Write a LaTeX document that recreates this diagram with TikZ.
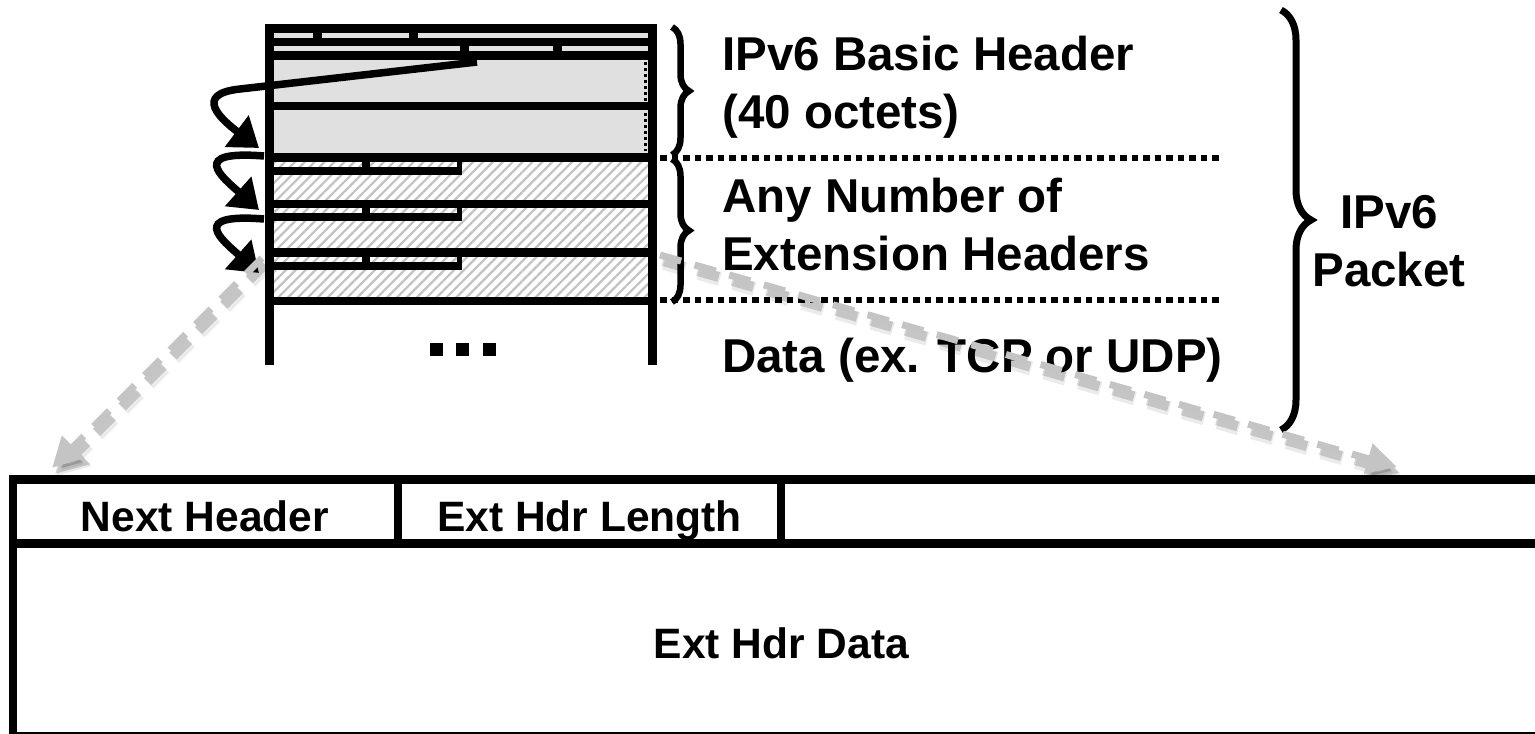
\documentclass[tikz,border=0pt]{standalone}
\usepackage{fontspec}
\setmainfont{Liberation Sans}
\usetikzlibrary{arrows.meta,patterns.meta,decorations.pathreplacing}

\definecolor{hdrgray}{gray}{0.88}
\definecolor{hatchgray}{gray}{0.76}
\definecolor{ptrgray}{gray}{0.77}

\begin{document}
\begin{tikzpicture}[x=1pt,y=-1pt,
  hline/.style={line width=8.5pt,line cap=rect},
  vline/.style={line width=8.5pt,line cap=butt},
  field/.style={line width=8pt,line cap=butt},
  dotline/.style={line width=6pt,dash pattern=on 6.5pt off 5pt},
  curl/.style={line width=7.5pt,-{Triangle[length=28pt,width=38pt]}},
  ptr/.style={ptrgray,line width=7pt,dash pattern=on 22pt off 14pt,
    -{Triangle[length=30pt,width=30pt]}},
  ptrshadow/.style={black,opacity=#1,line width=10pt,dash pattern=on 22pt off 14pt,
    -{Triangle[length=32pt,width=34pt]}},
  bigbrace/.style={decorate,decoration={brace,amplitude=#1},line width=6.5pt},
  label/.style={font=\bfseries\fontsize{47.5}{58}\selectfont,inner sep=0pt},
  flabel/.style={font=\bfseries\fontsize{42.5}{50}\selectfont,inner sep=0pt}
]
\useasboundingbox (0,0) rectangle (1535,734);
\clip (0,0) rectangle (1535,734);

% ---- packet stack: basic header (grey) and extension headers (hatched)
\fill[hdrgray] (269.5,28.5) rectangle (652.5,157.5);
\fill[white] (269.5,157.5) rectangle (652.5,301);
\fill[pattern={Lines[angle=45,distance=7pt,line width=2.2pt]},pattern color=hatchgray]
  (269.5,157.5) rectangle (652.5,301);

% small truncation ticks on the right of the address rows
\draw[line width=3.5pt,dash pattern=on 3pt off 3pt] (645.5,62) -- (645.5,101);
\draw[line width=3.5pt,dash pattern=on 3pt off 3pt] (645.5,113) -- (645.5,151);

% horizontal rules of the stack
\foreach \yy in {28.5,41.75,55.25,106,157.5,204,252.5,301}
  \draw[hline] (269.5,\yy) -- (652.5,\yy);

% field separators in the first two header words
\draw[field,line width=9pt] (317,28.5) -- (317,41.75);
\draw[field,line width=9pt] (413,28.5) -- (413,41.75);
\draw[field,line width=9pt] (464,41.75) -- (464,55.25);
\draw[field,line width=9pt] (557.5,41.75) -- (557.5,55.25);

% Next Header / Hdr Ext Len fields of each extension header
\foreach \yb in {157.5,204,252.5}{
  \draw[field,line width=8pt] (269.5,\yb+13) -- (461.7,\yb+13);
  \draw[field] (365.5,\yb) -- (365.5,\yb+13);
  \draw[field,line width=5pt] (459.2,\yb) -- (459.2,\yb+13);
}

% side walls, open towards the payload
\draw[vline] (269.5,28.5) -- (269.5,365);
\draw[vline] (652.5,28.5) -- (652.5,365);

% ellipsis for the payload
\fill (429.5,343) rectangle (442.5,356);
\fill (456,343) rectangle (469,356);
\fill (483,343) rectangle (496,356);

% ---- separators and braces
\draw[dotline] (660,157.5) -- (1222,157.5);
\draw[dotline] (660,300) -- (1222,300);

\draw[bigbrace=17pt] (672,27) -- (672,155);
\draw[bigbrace=17pt] (672,159) -- (672,302);
\draw[bigbrace=30pt,line width=7pt] (1281,10) -- (1281,430);

% ---- labels
\node[label,anchor=base west] (basic)   at (722,70)  {IPv6 Basic Header};
\node[label,anchor=base west] (octets)  at (722,128) {(40 octets)};
\node[label,anchor=base west] (anynum)  at (722,212) {Any Number of};
\node[label,anchor=base west] (exthdrs) at (722,270) {Extension Headers};
\node[label,anchor=base west] (data)    at (722,372) {Data (ex. TCP or UDP)};
\node[label,anchor=base] (ipv6)   at (1389,228) {IPv6};
\node[label,anchor=base] (packet) at (1389,286) {Packet};

% ---- next-header chain
\coordinate (nhsrc) at (477,62);
\coordinate (nhbend) at (240,89);
\coordinate (ext1) at (259,148);
\coordinate (ext1out) at (264,156);
\coordinate (ext2) at (259,210);
\coordinate (ext2out) at (264,219);
\coordinate (ext3) at (259,273);
\draw[curl] (nhsrc) -- (nhbend) .. controls (192,94) and (222,120) .. (ext1);
\draw[curl] (ext1out) .. controls (188,150) and (222,177) .. (ext2);
\draw[curl] (ext2out) .. controls (188,213) and (222,240) .. (ext3);

% ---- expanded extension header
\draw[hline] (13,479.5) -- (1535,479.5);
\draw[hline] (13,543.5) -- (1535,543.5);
\fill (9,731.5) rectangle (1535,734);
\draw[vline] (13,479.5) -- (13,734);
\draw[field,line width=8pt] (397.5,479.5) -- (397.5,543.5);
\draw[field,line width=8pt] (781,479.5) -- (781,543.5);

\node[flabel,anchor=base] (nexthdr) at (205,531)   {Next Header};
\node[flabel,anchor=base] (extlen)  at (589.5,531) {Ext Hdr Length};
\node[flabel,anchor=base] (extdata) at (781.5,658) {Ext Hdr Data};

% ---- zoom pointers with a soft drop shadow
\coordinate (zl0) at (262,258);
\coordinate (zl1) at (52,468);
\coordinate (zr0) at (660,255);
\coordinate (zr1) at (1397,467);
\begin{scope}[transform canvas={shift={(4,8)}}]
  \draw[ptrshadow=0.08,line width=14pt] (zl0) -- (zl1);
  \draw[ptrshadow=0.08,line width=14pt] (zr0) -- (zr1);
\end{scope}
\begin{scope}[transform canvas={shift={(3,6)}}]
  \draw[ptrshadow=0.16] (zl0) -- (zl1);
  \draw[ptrshadow=0.16] (zr0) -- (zr1);
\end{scope}
\draw[ptr] (zl0) -- (zl1);
\draw[ptr] (zr0) -- (zr1);
\end{tikzpicture}
\end{document}
